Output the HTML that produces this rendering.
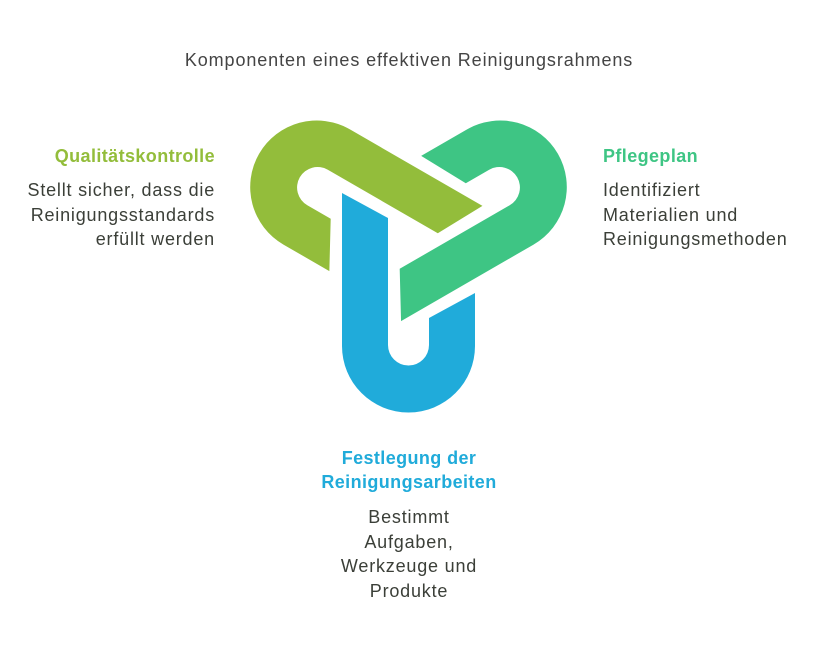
<!DOCTYPE html>
<html><head><meta charset="utf-8"><style>
body{margin:0;width:830px;height:650px;background:#fff;position:relative;font-family:"Liberation Sans",Arial,sans-serif;overflow:hidden}
.t{position:absolute;white-space:nowrap}
.h{font-weight:bold;font-size:18px;letter-spacing:0.4px}
.b{font-size:18px;color:#3b3f38;line-height:24.5px;letter-spacing:0.8px}
</style></head><body>
<div class="t" style="left:0;width:818px;text-align:center;top:50px;font-size:18px;letter-spacing:0.9px;color:#444">Komponenten eines effektiven Reinigungsrahmens</div>
<div class="t h" style="right:615px;top:146px;color:#93bd3b;text-align:right">Qualitätskontrolle</div>
<div class="t b" style="right:615px;top:178px;text-align:right">Stellt sicher, dass die<br>Reinigungsstandards<br>erfüllt werden</div>
<div class="t h" style="left:603px;top:146px;color:#3ec584">Pflegeplan</div>
<div class="t b" style="left:603px;top:178px">Identifiziert<br>Materialien und<br>Reinigungsmethoden</div>
<div class="t h" style="left:259px;width:300px;text-align:center;top:446px;color:#20abda;line-height:24px">Festlegung der<br>Reinigungsarbeiten</div>
<div class="t b" style="left:259px;width:300px;text-align:center;top:505px">Bestimmt<br>Aufgaben,<br>Werkzeuge und<br>Produkte</div>
<svg width="830" height="650" style="position:absolute;left:0;top:0">
<defs><path id="u" d="M342,193 L388,218 L388,345 A20.5,20.5 0 0 0 429,345 L429,318 L475,293 L475,346 A66.5,66.5 0 0 1 342,346 Z"/></defs>
<use href="#u" fill="#20abda"/>
<use href="#u" fill="#93bd3b" transform="rotate(120 408.5 240)"/>
<use href="#u" fill="#3ec584" transform="rotate(240 408.5 240)"/>
</svg>
</body></html>
